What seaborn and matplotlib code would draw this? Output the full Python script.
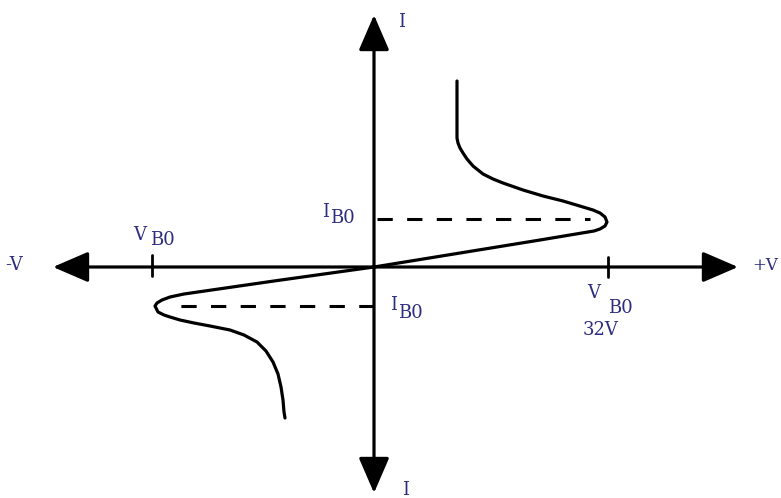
import matplotlib
matplotlib.use('Agg')
import matplotlib.pyplot as plt
import seaborn as sns
import pandas as pd

# DIAC characteristic (drawing units, origin at the axis cross)
v_fwd = [0, 166, 220, 226, 231, 233, 231, 226, 219, 209, 189, 169, 149, 129, 119, 109, 99, 93, 89, 86, 84, 83, 83]
i_fwd = [0, 27, 36, 38, 41, 45, 50, 54, 57, 60, 66, 71, 77, 84, 88, 93, 101, 108, 114, 119, 124, 129, 186]
v_rev = [0, -100, -190, -204, -212, -217, -219, -216, -210, -204, -194, -180, -164, -144, -130, -117, -108,
         -101, -96, -93, -91, -90, -89]
i_rev = [0, -14, -27, -30, -33, -36, -39, -45, -48, -50, -53, -56, -59, -63, -68, -75, -84,
         -95, -107, -120, -133, -145, -151]

vb0_pos, vb0_neg = 234, -222
ib0_pos, ib0_neg = 48, -39
vb0_text = '32V'

ink = '#2d2d80'
font = 'DejaVu Serif'

sns.set_style('white')
fig = plt.figure(figsize=(7.81, 4.98), dpi=100)
ax = fig.add_axes([0, 0, 1, 1])
ax.set_xlim(-374, 407)
ax.set_ylim(-231, 267)
ax.axis('off')

curves = pd.concat([
    pd.DataFrame({'v': v_fwd, 'i': i_fwd, 'branch': 'fwd'}),
    pd.DataFrame({'v': v_rev, 'i': i_rev, 'branch': 'rev'}),
])
for name, d in curves.groupby('branch'):
    sns.lineplot(data=d, x='v', y='i', sort=False, estimator=None,
                 color='black', lw=2.3, ax=ax, legend=False)

# dashed breakover current levels
dash = (0, (5, 4.7))
ax.plot([3, vb0_pos - 18], [ib0_pos, ib0_pos], color='black', lw=2.2, ls=dash)
ax.plot([0, vb0_neg + 23], [ib0_neg, ib0_neg], color='black', lw=2.2, ls=dash)

# axes with arrow heads
arrow = dict(arrowstyle='-|>,head_length=2.2,head_width=0.95', color='black',
             lw=2.3, shrinkA=0, shrinkB=0, mutation_scale=10)
ax.annotate('', xy=(364, 0), xytext=(0, 0), arrowprops=arrow)
ax.annotate('', xy=(-321, 0), xytext=(0, 0), arrowprops=arrow)
ax.annotate('', xy=(0, 252), xytext=(0, 0), arrowprops=arrow)
ax.annotate('', xy=(0, -226), xytext=(0, 0), arrowprops=arrow)

# breakover voltage ticks
ax.plot([vb0_pos, vb0_pos], [10, -10], color='black', lw=2)
ax.plot([vb0_neg, vb0_neg], [12, -9], color='black', lw=2)

txt = dict(color=ink, family=font, fontsize=13, va='baseline', ha='left')
ax.text(-369, -3, '-V', **txt)
ax.text(378, -3, '+V', **{**txt, 'fontsize': 12})
ax.text(24, 240, 'I', **txt)
ax.text(28, -228, 'I', **txt)

ax.text(-241, 27, 'V', **txt)
ax.text(-224, 22, 'B0', **txt)
ax.text(213, -31, 'V', **txt)
ax.text(234, -46, 'B0', **txt)
ax.text(209, -68, vb0_text, **txt)

ax.text(-52, 50, 'I', **txt)
ax.text(-44, 44, 'B0', **txt)
ax.text(16, -43, 'I', **txt)
ax.text(24, -51, 'B0', **txt)

fig.savefig('out.png', dpi=100, facecolor='white')
